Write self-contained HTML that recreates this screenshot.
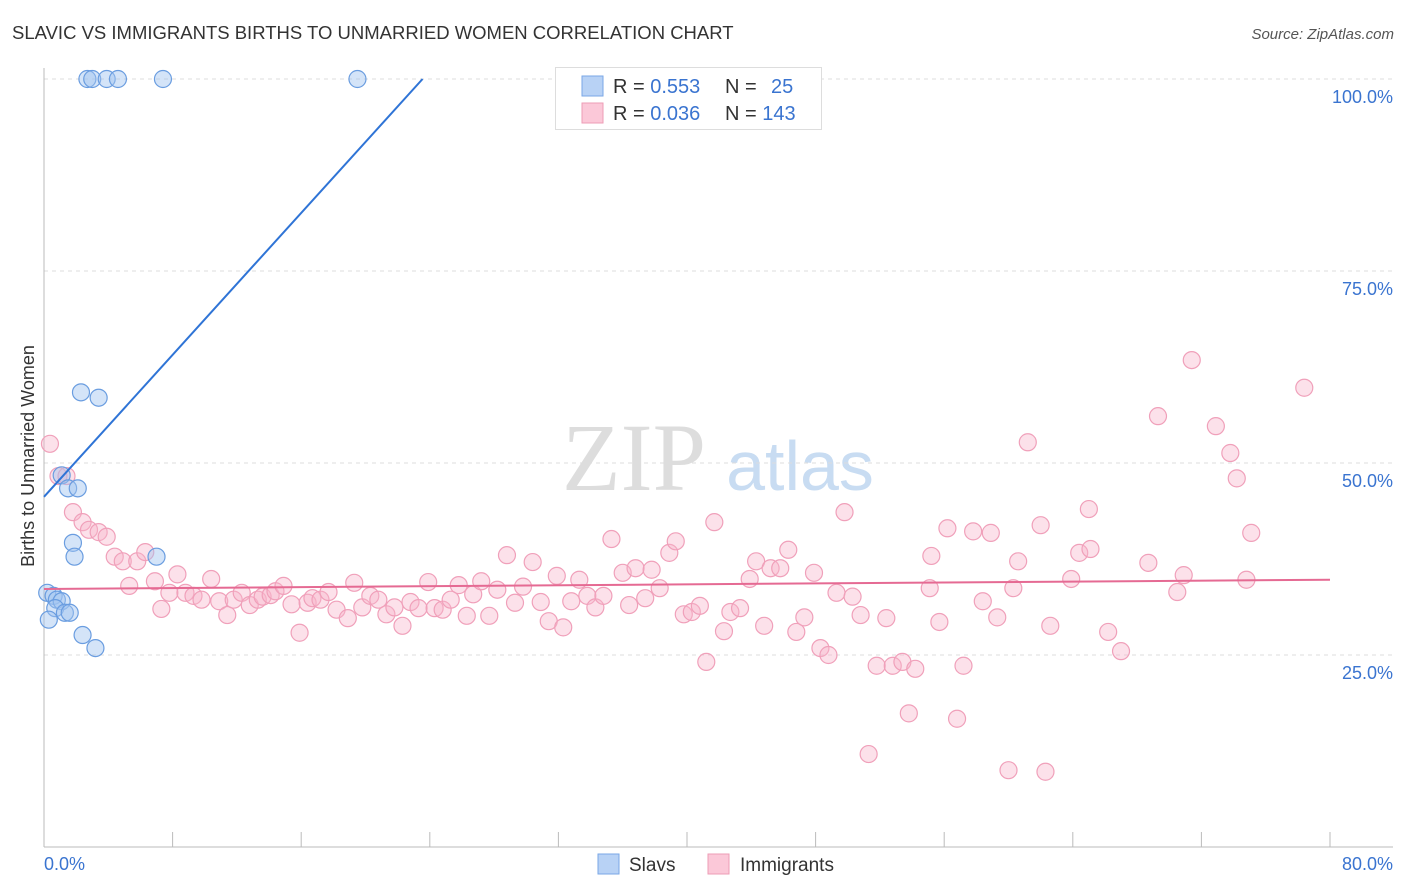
<!DOCTYPE html>
<html><head><meta charset="utf-8"><style>
body{margin:0;background:#fff;font-family:"Liberation Sans",sans-serif;}
svg{display:block}
</style></head><body>
<svg id="chart" width="1406" height="892">
<text x="12" y="39" font-size="18.5" fill="#333">SLAVIC VS IMMIGRANTS BIRTHS TO UNMARRIED WOMEN CORRELATION CHART</text>
<text x="1394" y="39" font-size="15" fill="#555" font-style="italic" text-anchor="end">Source: ZipAtlas.com</text>
<text x="634" y="490" font-size="96" fill="#ddd" font-family="Liberation Serif,serif" text-anchor="middle">ZIP</text>
<text x="800" y="490" font-size="70" fill="#c8dcf2" text-anchor="middle">atlas</text>
<text transform="translate(34,456) rotate(-90)" font-size="18" fill="#333" text-anchor="middle">Births to Unmarried Women</text>
<g id="grid"></g><g id="marks"></g>
<g>
<rect x="555.5" y="67.5" width="266" height="62" fill="#fff" stroke="#ddd"/>
<rect x="582" y="76" width="21" height="20" fill="#b8d2f5" stroke="#7aa7e6"/>
<rect x="582" y="103" width="21" height="20" fill="#fbc8d8" stroke="#ee9cb6"/>
<text x="613" y="93" font-size="20" fill="#333">R = <tspan fill="#3a74d0">0.553</tspan></text>
<text x="725" y="93" font-size="20" fill="#333">N = <tspan fill="#3a74d0" x="771">25</tspan></text>
<text x="613" y="120" font-size="20" fill="#333">R = <tspan fill="#3a74d0">0.036</tspan></text>
<text x="725" y="120" font-size="20" fill="#333">N = <tspan fill="#3a74d0">143</tspan></text>
</g>
<g>
<rect x="598" y="854" width="21" height="20" fill="#b8d2f5" stroke="#7aa7e6"/>
<text x="629" y="871" font-size="19" fill="#333">Slavs</text>
<rect x="708" y="854" width="21" height="20" fill="#fbc8d8" stroke="#ee9cb6"/>
<text x="740" y="871" font-size="19" fill="#333">Immigrants</text>
</g>
<text x="44" y="870" font-size="18" fill="#3a74d0">0.0%</text>
<text x="1393" y="870" font-size="18" fill="#3a74d0" text-anchor="end">80.0%</text>
</svg>
<script>
const yTicks=[25,50,75,100];
const yTickLabels=["25.0%","50.0%","75.0%","100.0%"];
const xTicks=[0,8,16,24,32,40,48,56,64,72,80];
const slavX=[2.7,3.0,3.9,4.6,7.4,19.5,32.5,2.3,3.4,1.1,1.5,2.1,1.8,1.9,7.0,0.2,0.6,0.8,1.1,0.7,1.3,1.6,0.3,2.4,3.2];
const slavY=[100,100,100,100,100,100,100,59.2,58.5,48.4,46.7,46.7,39.6,37.8,37.8,33.1,32.7,32.2,32.0,31.1,30.5,30.5,29.6,27.6,25.9];
const immX=[0.37,0.9,1.4,1.8,2.4,2.8,3.4,3.9,4.4,4.9,5.3,5.8,6.3,6.9,7.3,7.8,8.3,8.8,9.3,9.8,10.4,10.9,11.4,11.8,12.3,12.8,13.3,13.6,14.1,14.4,14.9,15.4,15.9,16.4,16.7,17.2,17.7,18.2,18.9,19.3,19.8,20.3,20.8,21.3,21.8,22.3,22.8,23.3,23.9,24.3,24.8,25.3,25.8,26.3,26.7,27.2,27.7,28.2,28.8,29.3,29.8,30.4,30.9,31.4,31.9,32.3,32.8,33.3,33.8,34.3,34.8,35.3,36.0,36.4,36.8,37.4,37.8,38.3,38.9,39.3,39.8,40.3,40.8,41.2,41.7,42.3,42.7,43.3,43.9,44.3,44.8,45.2,45.8,46.3,46.8,47.3,47.9,48.3,48.8,49.3,49.8,50.3,50.8,51.8,51.3,52.4,52.8,53.4,53.8,54.2,55.1,55.2,55.7,56.2,56.8,57.2,57.8,58.4,58.9,59.3,60.6,60.3,60.0,61.2,62.0,62.3,62.6,63.9,64.4,65.0,65.1,66.2,67.0,68.7,69.3,70.5,70.9,71.4,72.9,73.8,74.2,74.8,75.1,78.4];
const immY=[52.5,48.3,48.3,43.6,42.3,41.3,41.0,40.4,37.8,37.2,34.0,37.2,38.4,34.6,31.0,33.1,35.5,33.1,32.7,32.2,34.9,32.0,30.2,32.2,33.1,31.5,32.2,32.6,32.8,33.3,34.0,31.6,27.9,31.8,32.4,32.2,33.2,30.9,29.8,34.4,31.2,32.7,32.2,30.3,31.2,28.8,31.9,31.1,34.5,31.1,30.9,32.2,34.1,30.1,32.9,34.6,30.1,33.5,38.0,31.8,33.9,37.1,31.9,29.4,35.3,28.6,32.0,34.8,32.7,31.2,32.7,40.1,35.7,31.5,36.3,32.4,36.1,33.7,38.3,39.8,30.3,30.6,31.4,24.1,42.3,28.1,30.6,31.1,34.9,37.2,28.8,36.3,36.3,38.7,28.0,29.9,35.7,25.9,25.0,33.1,43.6,32.6,30.2,23.6,12.1,29.8,23.6,24.1,17.4,23.2,33.7,37.9,29.3,41.5,16.7,23.6,41.1,32.0,40.9,29.9,37.2,33.7,10.0,52.7,41.9,9.8,28.8,34.9,38.3,44.0,38.8,28.0,25.5,37.0,56.1,33.2,35.4,63.4,54.8,51.3,48.0,34.8,40.9,59.8];
const slavTrend=[45.6,2.31];
const immTrend=[33.6,0.015];

const NS="http://www.w3.org/2000/svg";
const X0=44,X1=1330,Y0=847,Y100=79;
const xs=v=>X0+(X1-X0)*v/80;
const ys=v=>Y0-(Y0-Y100)*v/100;
const grid=document.getElementById('grid'),marks=document.getElementById('marks');
function mk(tag,attrs,parent){const e=document.createElementNS(NS,tag);for(const k in attrs)e.setAttribute(k,attrs[k]);parent.appendChild(e);return e;}
yTicks.forEach((t,i)=>{
  const l=mk('line',{x1:X0,x2:1393,y1:ys(t),y2:ys(t),stroke:'#ddd','stroke-dasharray':'4,4'},grid);
  
  
  const tx=mk('text',{x:1393,y:ys(t)+24,'font-size':18,fill:'#3a74d0','text-anchor':'end'},grid);
  tx.textContent=yTickLabels[i];
  
  
});
const ax=mk('line',{x1:X0,x2:X0,y1:68,y2:Y0,stroke:'#bbb'},grid);


const bx=mk('line',{x1:X0,x2:1393,y1:Y0,y2:Y0,stroke:'#bbb'},grid);


xTicks.forEach(t=>{
  const l=mk('line',{x1:xs(t),x2:xs(t),y1:832,y2:Y0,stroke:'#bbb'},grid);
  
  
});
immX.forEach((v,i)=>{
  const c=mk('circle',{cx:xs(v),cy:ys(immY[i]),r:8.5,fill:'rgba(248,180,203,0.4)',stroke:'#f0a0ba','stroke-width':1.2},marks);
  
  
});
slavX.forEach((v,i)=>{
  const c=mk('circle',{cx:xs(v),cy:ys(slavY[i]),r:8.5,fill:'rgba(160,195,240,0.45)',stroke:'#6a9de0','stroke-width':1.2},marks);
  
  
});
const sxEnd=(100-slavTrend[0])/slavTrend[1];
const sl=mk('line',{x1:xs(0),y1:ys(slavTrend[0]),x2:xs(sxEnd),y2:ys(100),stroke:'#2f74d6','stroke-width':2},marks);


const il=mk('line',{x1:xs(0),y1:ys(immTrend[0]),x2:xs(80),y2:ys(immTrend[0]+immTrend[1]*80),stroke:'#e56a93','stroke-width':2},marks);


</script>
</body></html>
